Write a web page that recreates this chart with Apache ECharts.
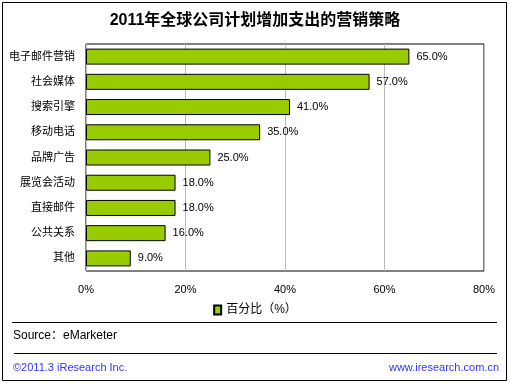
<!DOCTYPE html>
<html><head><meta charset="utf-8">
<script src="https://cdn.jsdelivr.net/npm/echarts@6/dist/echarts.min.js"></script>
<style>html,body{margin:0;padding:0;background:#fff}#c{width:510px;height:384px}</style>
</head><body><div id="c"></div>
<script>
const categories = ['电子邮件营销','社会媒体','搜索引擎','移动电话','品牌广告','展览会活动','直接邮件','公共关系','其他'];
const values = [65.0, 57.0, 41.0, 35.0, 25.0, 18.0, 18.0, 16.0, 9.0];
const xTicks = [0, 20, 40, 60, 80];
const seriesName = '百分比（%）';
const titleText = '2011年全球公司计划增加支出的营销策略';
const sourceText = 'Source：eMarketer';
const footerLeft = '©2011.3 iResearch Inc.';
const footerRight = 'www.iresearch.com.cn';

const FONT = '"Liberation Sans","Noto Sans CJK SC",sans-serif';
const chart = echarts.init(document.getElementById('c'));
chart.setOption({
  animation: false,
  textStyle: {fontFamily: FONT},
  grid: {left: 86, right: 26, top: 44, bottom: 113, containLabel: false, show: true, borderColor: '#000', borderWidth: 1},
  legend: {
    data: [seriesName], top: 299, left: 'center', itemWidth: 7, itemHeight: 9, itemGap: 4,
    textStyle: {fontSize: 12, color: '#000', fontFamily: FONT}, icon: 'rect'
  },
  xAxis: {
    type: 'value', min: xTicks[0], max: xTicks[xTicks.length-1], interval: 20,
    axisLine: {show: false}, axisTick: {show: false},
    axisLabel: {formatter: '{value}%', margin: 13, fontSize: 11, color: '#000'},
    splitLine: {lineStyle: {color: '#bbb', width: 1}}
  },
  yAxis: {
    type: 'category', data: categories, inverse: true,
    axisLine: {show: false}, axisTick: {show: false},
    axisLabel: {fontSize: 11, color: '#000', margin: 11}
  },
  series: [{
    name: seriesName, type: 'bar', data: values, barWidth: 16,
    itemStyle: {color: '#99cc00', borderColor: '#000', borderWidth: 1},
    label: {show: true, position: 'right', distance: 7, fontSize: 11, color: '#000',
      formatter: p => p.value.toFixed(1) + '%'}
  }],
  graphic: [
    {type: 'rect', shape: {x: 2.5, y: 2.5, width: 504, height: 378}, style: {fill: 'none', stroke: '#000', lineWidth: 1}, silent: true},
    {type: 'text', left: 'center', top: 13, style: {text: titleText, font: 'bold 16px ' + FONT, fill: '#000'}},
    {type: 'line', shape: {x1: 12, y1: 322.5, x2: 497, y2: 322.5}, style: {stroke: '#000', lineWidth: 1}},
    {type: 'text', left: 13, top: 330, style: {text: sourceText, font: '12px ' + FONT, fill: '#000'}},
    {type: 'line', shape: {x1: 14, y1: 353.5, x2: 497, y2: 353.5}, style: {stroke: '#000', lineWidth: 1}},
    {type: 'text', left: 13, top: 362, style: {text: footerLeft, font: '11px ' + FONT, fill: '#3333ff'}},
    {type: 'text', right: 11, top: 362, style: {text: footerRight, font: '11px ' + FONT, fill: '#3333ff'}}
  ]
});
</script></body></html>
